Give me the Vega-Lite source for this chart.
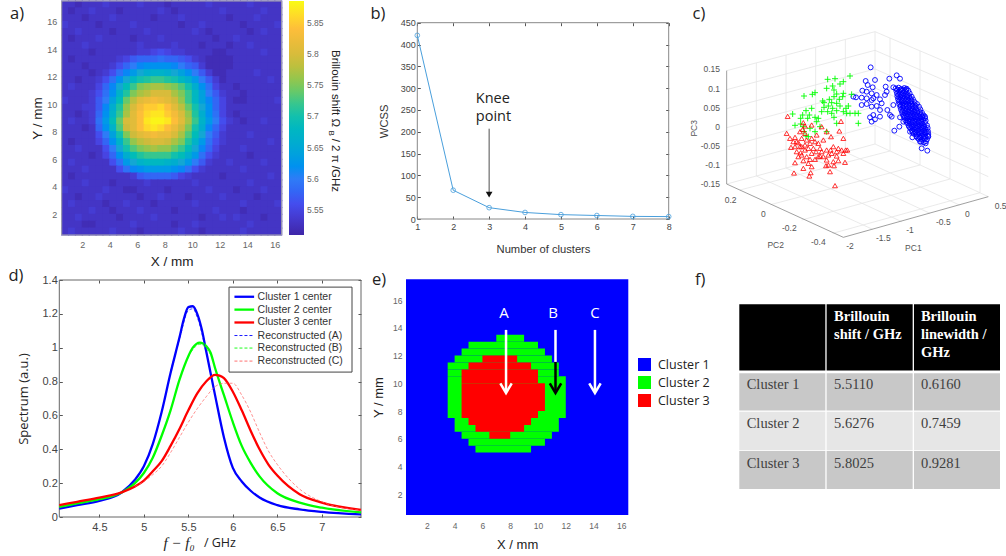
{"$schema":"https://vega.github.io/schema/vega-lite/v6.json","width":1006,"height":556,"autosize":{"type":"none"},"padding":0,"background":"white",
"config":{"view":{"stroke":null},"axis":{"grid":false,"labelFont":"Liberation Sans","titleFont":"Liberation Sans","titleFontWeight":"normal","labelOverlap":false,"labelFlush":false,"domain":false},"legend":{"labelFont":"Liberation Sans"}},
"resolve":{"scale":{"x":"independent","y":"independent","color":"independent"},"axis":{"x":"independent","y":"independent"},"legend":{"color":"independent"}},
"layer":[
{"encoding":{"x":{"field":"x","type":"quantitative","scale":{"domain":[0.5,16.5],"range":[61.7,281.7]},"axis":{"orient":"bottom","offset":-321,"values":[2,4,6,8,10,12,14,16],"title":"X / mm","ticks":false,"labelPadding":5,"labelFontSize":9,"labelColor":"#666","titleFontSize":13.5,"titleColor":"#222","titlePadding":5}},
"y":{"field":"y","type":"quantitative","scale":{"domain":[0.5,17.5],"range":[235,1]},"axis":{"orient":"left","offset":-61.7,"values":[2,4,6,8,10,12,14,16],"title":"Y / mm","ticks":false,"labelPadding":5,"labelFontSize":9,"labelColor":"#666","titleFontSize":13.5,"titleColor":"#222","titlePadding":2}}},
"layer":[
{"data":{"values":[
{"x":0.75,"y":17.25,"v":5.53},{"x":1.25,"y":17.25,"v":5.53},{"x":1.75,"y":17.25,"v":5.52},{"x":2.25,"y":17.25,"v":5.53},{"x":2.75,"y":17.25,"v":5.53},{"x":3.25,"y":17.25,"v":5.53},{"x":3.75,"y":17.25,"v":5.54},{"x":4.25,"y":17.25,"v":5.53},{"x":4.75,"y":17.25,"v":5.53},{"x":5.25,"y":17.25,"v":5.53},{"x":5.75,"y":17.25,"v":5.53},{"x":6.25,"y":17.25,"v":5.54},{"x":6.75,"y":17.25,"v":5.53},{"x":7.25,"y":17.25,"v":5.53},{"x":7.75,"y":17.25,"v":5.53},{"x":8.25,"y":17.25,"v":5.52},{"x":8.75,"y":17.25,"v":5.53},{"x":9.25,"y":17.25,"v":5.53},{"x":9.75,"y":17.25,"v":5.53},{"x":10.25,"y":17.25,"v":5.53},{"x":10.75,"y":17.25,"v":5.53},{"x":11.25,"y":17.25,"v":5.54},{"x":11.75,"y":17.25,"v":5.53},{"x":12.25,"y":17.25,"v":5.53},{"x":12.75,"y":17.25,"v":5.53},{"x":13.25,"y":17.25,"v":5.53},{"x":13.75,"y":17.25,"v":5.53},{"x":14.25,"y":17.25,"v":5.54},{"x":14.75,"y":17.25,"v":5.53},{"x":15.25,"y":17.25,"v":5.53},{"x":15.75,"y":17.25,"v":5.53},{"x":16.25,"y":17.25,"v":5.53},
{"x":0.75,"y":16.75,"v":5.53},{"x":1.25,"y":16.75,"v":5.52},{"x":1.75,"y":16.75,"v":5.53},{"x":2.25,"y":16.75,"v":5.53},{"x":2.75,"y":16.75,"v":5.54},{"x":3.25,"y":16.75,"v":5.53},{"x":3.75,"y":16.75,"v":5.53},{"x":4.25,"y":16.75,"v":5.53},{"x":4.75,"y":16.75,"v":5.52},{"x":5.25,"y":16.75,"v":5.53},{"x":5.75,"y":16.75,"v":5.53},{"x":6.25,"y":16.75,"v":5.53},{"x":6.75,"y":16.75,"v":5.53},{"x":7.25,"y":16.75,"v":5.53},{"x":7.75,"y":16.75,"v":5.54},{"x":8.25,"y":16.75,"v":5.53},{"x":8.75,"y":16.75,"v":5.52},{"x":9.25,"y":16.75,"v":5.53},{"x":9.75,"y":16.75,"v":5.53},{"x":10.25,"y":16.75,"v":5.53},{"x":10.75,"y":16.75,"v":5.53},{"x":11.25,"y":16.75,"v":5.53},{"x":11.75,"y":16.75,"v":5.53},{"x":12.25,"y":16.75,"v":5.54},{"x":12.75,"y":16.75,"v":5.53},{"x":13.25,"y":16.75,"v":5.53},{"x":13.75,"y":16.75,"v":5.53},{"x":14.25,"y":16.75,"v":5.53},{"x":14.75,"y":16.75,"v":5.53},{"x":15.25,"y":16.75,"v":5.54},{"x":15.75,"y":16.75,"v":5.53},{"x":16.25,"y":16.75,"v":5.53},
{"x":0.75,"y":16.25,"v":5.53},{"x":1.25,"y":16.25,"v":5.53},{"x":1.75,"y":16.25,"v":5.53},{"x":2.25,"y":16.25,"v":5.52},{"x":2.75,"y":16.25,"v":5.53},{"x":3.25,"y":16.25,"v":5.53},{"x":3.75,"y":16.25,"v":5.53},{"x":4.25,"y":16.25,"v":5.54},{"x":4.75,"y":16.25,"v":5.53},{"x":5.25,"y":16.25,"v":5.53},{"x":5.75,"y":16.25,"v":5.53},{"x":6.25,"y":16.25,"v":5.53},{"x":6.75,"y":16.25,"v":5.53},{"x":7.25,"y":16.25,"v":5.52},{"x":7.75,"y":16.25,"v":5.53},{"x":8.25,"y":16.25,"v":5.53},{"x":8.75,"y":16.25,"v":5.53},{"x":9.25,"y":16.25,"v":5.54},{"x":9.75,"y":16.25,"v":5.53},{"x":10.25,"y":16.25,"v":5.53},{"x":10.75,"y":16.25,"v":5.53},{"x":11.25,"y":16.25,"v":5.53},{"x":11.75,"y":16.25,"v":5.53},{"x":12.25,"y":16.25,"v":5.53},{"x":12.75,"y":16.25,"v":5.52},{"x":13.25,"y":16.25,"v":5.53},{"x":13.75,"y":16.25,"v":5.53},{"x":14.25,"y":16.25,"v":5.53},{"x":14.75,"y":16.25,"v":5.54},{"x":15.25,"y":16.25,"v":5.53},{"x":15.75,"y":16.25,"v":5.53},{"x":16.25,"y":16.25,"v":5.53},
{"x":0.75,"y":15.75,"v":5.54},{"x":1.25,"y":15.75,"v":5.53},{"x":1.75,"y":15.75,"v":5.53},{"x":2.25,"y":15.75,"v":5.53},{"x":2.75,"y":15.75,"v":5.53},{"x":3.25,"y":15.75,"v":5.52},{"x":3.75,"y":15.75,"v":5.53},{"x":4.25,"y":15.75,"v":5.53},{"x":4.75,"y":15.75,"v":5.53},{"x":5.25,"y":15.75,"v":5.53},{"x":5.75,"y":15.75,"v":5.54},{"x":6.25,"y":15.75,"v":5.53},{"x":6.75,"y":15.75,"v":5.53},{"x":7.25,"y":15.75,"v":5.53},{"x":7.75,"y":15.75,"v":5.53},{"x":8.25,"y":15.75,"v":5.53},{"x":8.75,"y":15.75,"v":5.53},{"x":9.25,"y":15.75,"v":5.52},{"x":9.75,"y":15.75,"v":5.53},{"x":10.25,"y":15.75,"v":5.53},{"x":10.75,"y":15.75,"v":5.54},{"x":11.25,"y":15.75,"v":5.53},{"x":11.75,"y":15.75,"v":5.53},{"x":12.25,"y":15.75,"v":5.53},{"x":12.75,"y":15.75,"v":5.53},{"x":13.25,"y":15.75,"v":5.53},{"x":13.75,"y":15.75,"v":5.52},{"x":14.25,"y":15.75,"v":5.53},{"x":14.75,"y":15.75,"v":5.53},{"x":15.25,"y":15.75,"v":5.53},{"x":15.75,"y":15.75,"v":5.53},{"x":16.25,"y":15.75,"v":5.54},
{"x":0.75,"y":15.25,"v":5.53},{"x":1.25,"y":15.25,"v":5.53},{"x":1.75,"y":15.25,"v":5.54},{"x":2.25,"y":15.25,"v":5.53},{"x":2.75,"y":15.25,"v":5.53},{"x":3.25,"y":15.25,"v":5.53},{"x":3.75,"y":15.25,"v":5.53},{"x":4.25,"y":15.25,"v":5.52},{"x":4.75,"y":15.25,"v":5.53},{"x":5.25,"y":15.25,"v":5.53},{"x":5.75,"y":15.25,"v":5.53},{"x":6.25,"y":15.25,"v":5.53},{"x":6.75,"y":15.25,"v":5.54},{"x":7.25,"y":15.25,"v":5.53},{"x":7.75,"y":15.25,"v":5.53},{"x":8.25,"y":15.25,"v":5.53},{"x":8.75,"y":15.25,"v":5.53},{"x":9.25,"y":15.25,"v":5.53},{"x":9.75,"y":15.25,"v":5.53},{"x":10.25,"y":15.25,"v":5.54},{"x":10.75,"y":15.25,"v":5.53},{"x":11.25,"y":15.25,"v":5.52},{"x":11.75,"y":15.25,"v":5.53},{"x":12.25,"y":15.25,"v":5.53},{"x":12.75,"y":15.25,"v":5.53},{"x":13.25,"y":15.25,"v":5.53},{"x":13.75,"y":15.25,"v":5.53},{"x":14.25,"y":15.25,"v":5.52},{"x":14.75,"y":15.25,"v":5.53},{"x":15.25,"y":15.25,"v":5.54},{"x":15.75,"y":15.25,"v":5.53},{"x":16.25,"y":15.25,"v":5.53},
{"x":0.75,"y":14.75,"v":5.53},{"x":1.25,"y":14.75,"v":5.52},{"x":1.75,"y":14.75,"v":5.53},{"x":2.25,"y":14.75,"v":5.53},{"x":2.75,"y":14.75,"v":5.53},{"x":3.25,"y":14.75,"v":5.54},{"x":3.75,"y":14.75,"v":5.53},{"x":4.25,"y":14.75,"v":5.53},{"x":4.75,"y":14.75,"v":5.53},{"x":5.25,"y":14.75,"v":5.53},{"x":5.75,"y":14.75,"v":5.52},{"x":6.25,"y":14.75,"v":5.53},{"x":6.75,"y":14.75,"v":5.53},{"x":7.25,"y":14.75,"v":5.53},{"x":7.75,"y":14.75,"v":5.54},{"x":8.25,"y":14.75,"v":5.53},{"x":8.75,"y":14.75,"v":5.53},{"x":9.25,"y":14.75,"v":5.53},{"x":9.75,"y":14.75,"v":5.53},{"x":10.25,"y":14.75,"v":5.53},{"x":10.75,"y":14.75,"v":5.53},{"x":11.25,"y":14.75,"v":5.53},{"x":11.75,"y":14.75,"v":5.52},{"x":12.25,"y":14.75,"v":5.53},{"x":12.75,"y":14.75,"v":5.53},{"x":13.25,"y":14.75,"v":5.54},{"x":13.75,"y":14.75,"v":5.53},{"x":14.25,"y":14.75,"v":5.53},{"x":14.75,"y":14.75,"v":5.53},{"x":15.25,"y":14.75,"v":5.53},{"x":15.75,"y":14.75,"v":5.53},{"x":16.25,"y":14.75,"v":5.53},
{"x":0.75,"y":14.25,"v":5.53},{"x":1.25,"y":14.25,"v":5.53},{"x":1.75,"y":14.25,"v":5.53},{"x":2.25,"y":14.25,"v":5.54},{"x":2.75,"y":14.25,"v":5.53},{"x":3.25,"y":14.25,"v":5.53},{"x":3.75,"y":14.25,"v":5.53},{"x":4.25,"y":14.25,"v":5.53},{"x":4.75,"y":14.25,"v":5.53},{"x":5.25,"y":14.25,"v":5.53},{"x":5.75,"y":14.25,"v":5.53},{"x":6.25,"y":14.25,"v":5.54},{"x":6.75,"y":14.25,"v":5.53},{"x":7.25,"y":14.25,"v":5.53},{"x":7.75,"y":14.25,"v":5.53},{"x":8.25,"y":14.25,"v":5.53},{"x":8.75,"y":14.25,"v":5.54},{"x":9.25,"y":14.25,"v":5.53},{"x":9.75,"y":14.25,"v":5.53},{"x":10.25,"y":14.25,"v":5.53},{"x":10.75,"y":14.25,"v":5.52},{"x":11.25,"y":14.25,"v":5.53},{"x":11.75,"y":14.25,"v":5.53},{"x":12.25,"y":14.25,"v":5.53},{"x":12.75,"y":14.25,"v":5.52},{"x":13.25,"y":14.25,"v":5.53},{"x":13.75,"y":14.25,"v":5.53},{"x":14.25,"y":14.25,"v":5.54},{"x":14.75,"y":14.25,"v":5.53},{"x":15.25,"y":14.25,"v":5.53},{"x":15.75,"y":14.25,"v":5.53},{"x":16.25,"y":14.25,"v":5.53},
{"x":0.75,"y":13.75,"v":5.53},{"x":1.25,"y":13.75,"v":5.53},{"x":1.75,"y":13.75,"v":5.53},{"x":2.25,"y":13.75,"v":5.53},{"x":2.75,"y":13.75,"v":5.52},{"x":3.25,"y":13.75,"v":5.53},{"x":3.75,"y":13.75,"v":5.53},{"x":4.25,"y":13.75,"v":5.53},{"x":4.75,"y":13.75,"v":5.53},{"x":5.25,"y":13.75,"v":5.53},{"x":5.75,"y":13.75,"v":5.53},{"x":6.25,"y":13.75,"v":5.54},{"x":6.75,"y":13.75,"v":5.54},{"x":7.25,"y":13.75,"v":5.55},{"x":7.75,"y":13.75,"v":5.56},{"x":8.25,"y":13.75,"v":5.55},{"x":8.75,"y":13.75,"v":5.54},{"x":9.25,"y":13.75,"v":5.54},{"x":9.75,"y":13.75,"v":5.53},{"x":10.25,"y":13.75,"v":5.53},{"x":10.75,"y":13.75,"v":5.53},{"x":11.25,"y":13.75,"v":5.53},{"x":11.75,"y":13.75,"v":5.52},{"x":12.25,"y":13.75,"v":5.52},{"x":12.75,"y":13.75,"v":5.53},{"x":13.25,"y":13.75,"v":5.53},{"x":13.75,"y":13.75,"v":5.53},{"x":14.25,"y":13.75,"v":5.53},{"x":14.75,"y":13.75,"v":5.53},{"x":15.25,"y":13.75,"v":5.54},{"x":15.75,"y":13.75,"v":5.53},{"x":16.25,"y":13.75,"v":5.53},
{"x":0.75,"y":13.25,"v":5.53},{"x":1.25,"y":13.25,"v":5.52},{"x":1.75,"y":13.25,"v":5.53},{"x":2.25,"y":13.25,"v":5.53},{"x":2.75,"y":13.25,"v":5.53},{"x":3.25,"y":13.25,"v":5.53},{"x":3.75,"y":13.25,"v":5.53},{"x":4.25,"y":13.25,"v":5.53},{"x":4.75,"y":13.25,"v":5.54},{"x":5.25,"y":13.25,"v":5.55},{"x":5.75,"y":13.25,"v":5.57},{"x":6.25,"y":13.25,"v":5.58},{"x":6.75,"y":13.25,"v":5.58},{"x":7.25,"y":13.25,"v":5.58},{"x":7.75,"y":13.25,"v":5.59},{"x":8.25,"y":13.25,"v":5.58},{"x":8.75,"y":13.25,"v":5.58},{"x":9.25,"y":13.25,"v":5.57},{"x":9.75,"y":13.25,"v":5.56},{"x":10.25,"y":13.25,"v":5.54},{"x":10.75,"y":13.25,"v":5.53},{"x":11.25,"y":13.25,"v":5.52},{"x":11.75,"y":13.25,"v":5.52},{"x":12.25,"y":13.25,"v":5.52},{"x":12.75,"y":13.25,"v":5.52},{"x":13.25,"y":13.25,"v":5.53},{"x":13.75,"y":13.25,"v":5.53},{"x":14.25,"y":13.25,"v":5.53},{"x":14.75,"y":13.25,"v":5.53},{"x":15.25,"y":13.25,"v":5.53},{"x":15.75,"y":13.25,"v":5.53},{"x":16.25,"y":13.25,"v":5.53},
{"x":0.75,"y":12.75,"v":5.53},{"x":1.25,"y":12.75,"v":5.53},{"x":1.75,"y":12.75,"v":5.53},{"x":2.25,"y":12.75,"v":5.52},{"x":2.75,"y":12.75,"v":5.53},{"x":3.25,"y":12.75,"v":5.53},{"x":3.75,"y":12.75,"v":5.53},{"x":4.25,"y":12.75,"v":5.54},{"x":4.75,"y":12.75,"v":5.56},{"x":5.25,"y":12.75,"v":5.58},{"x":5.75,"y":12.75,"v":5.6},{"x":6.25,"y":12.75,"v":5.61},{"x":6.75,"y":12.75,"v":5.62},{"x":7.25,"y":12.75,"v":5.62},{"x":7.75,"y":12.75,"v":5.62},{"x":8.25,"y":12.75,"v":5.62},{"x":8.75,"y":12.75,"v":5.61},{"x":9.25,"y":12.75,"v":5.6},{"x":9.75,"y":12.75,"v":5.58},{"x":10.25,"y":12.75,"v":5.57},{"x":10.75,"y":12.75,"v":5.54},{"x":11.25,"y":12.75,"v":5.52},{"x":11.75,"y":12.75,"v":5.52},{"x":12.25,"y":12.75,"v":5.52},{"x":12.75,"y":12.75,"v":5.52},{"x":13.25,"y":12.75,"v":5.53},{"x":13.75,"y":12.75,"v":5.53},{"x":14.25,"y":12.75,"v":5.53},{"x":14.75,"y":12.75,"v":5.53},{"x":15.25,"y":12.75,"v":5.53},{"x":15.75,"y":12.75,"v":5.53},{"x":16.25,"y":12.75,"v":5.53},
{"x":0.75,"y":12.25,"v":5.53},{"x":1.25,"y":12.25,"v":5.53},{"x":1.75,"y":12.25,"v":5.53},{"x":2.25,"y":12.25,"v":5.53},{"x":2.75,"y":12.25,"v":5.52},{"x":3.25,"y":12.25,"v":5.53},{"x":3.75,"y":12.25,"v":5.54},{"x":4.25,"y":12.25,"v":5.56},{"x":4.75,"y":12.25,"v":5.59},{"x":5.25,"y":12.25,"v":5.61},{"x":5.75,"y":12.25,"v":5.63},{"x":6.25,"y":12.25,"v":5.65},{"x":6.75,"y":12.25,"v":5.66},{"x":7.25,"y":12.25,"v":5.67},{"x":7.75,"y":12.25,"v":5.67},{"x":8.25,"y":12.25,"v":5.66},{"x":8.75,"y":12.25,"v":5.65},{"x":9.25,"y":12.25,"v":5.64},{"x":9.75,"y":12.25,"v":5.62},{"x":10.25,"y":12.25,"v":5.6},{"x":10.75,"y":12.25,"v":5.57},{"x":11.25,"y":12.25,"v":5.54},{"x":11.75,"y":12.25,"v":5.52},{"x":12.25,"y":12.25,"v":5.52},{"x":12.75,"y":12.25,"v":5.53},{"x":13.25,"y":12.25,"v":5.53},{"x":13.75,"y":12.25,"v":5.53},{"x":14.25,"y":12.25,"v":5.53},{"x":14.75,"y":12.25,"v":5.54},{"x":15.25,"y":12.25,"v":5.53},{"x":15.75,"y":12.25,"v":5.53},{"x":16.25,"y":12.25,"v":5.53},
{"x":0.75,"y":11.75,"v":5.53},{"x":1.25,"y":11.75,"v":5.53},{"x":1.75,"y":11.75,"v":5.52},{"x":2.25,"y":11.75,"v":5.53},{"x":2.75,"y":11.75,"v":5.53},{"x":3.25,"y":11.75,"v":5.54},{"x":3.75,"y":11.75,"v":5.56},{"x":4.25,"y":11.75,"v":5.59},{"x":4.75,"y":11.75,"v":5.62},{"x":5.25,"y":11.75,"v":5.65},{"x":5.75,"y":11.75,"v":5.68},{"x":6.25,"y":11.75,"v":5.7},{"x":6.75,"y":11.75,"v":5.71},{"x":7.25,"y":11.75,"v":5.72},{"x":7.75,"y":11.75,"v":5.72},{"x":8.25,"y":11.75,"v":5.71},{"x":8.75,"y":11.75,"v":5.7},{"x":9.25,"y":11.75,"v":5.68},{"x":9.75,"y":11.75,"v":5.66},{"x":10.25,"y":11.75,"v":5.63},{"x":10.75,"y":11.75,"v":5.6},{"x":11.25,"y":11.75,"v":5.57},{"x":11.75,"y":11.75,"v":5.54},{"x":12.25,"y":11.75,"v":5.52},{"x":12.75,"y":11.75,"v":5.53},{"x":13.25,"y":11.75,"v":5.53},{"x":13.75,"y":11.75,"v":5.53},{"x":14.25,"y":11.75,"v":5.53},{"x":14.75,"y":11.75,"v":5.53},{"x":15.25,"y":11.75,"v":5.53},{"x":15.75,"y":11.75,"v":5.54},{"x":16.25,"y":11.75,"v":5.53},
{"x":0.75,"y":11.25,"v":5.53},{"x":1.25,"y":11.25,"v":5.54},{"x":1.75,"y":11.25,"v":5.53},{"x":2.25,"y":11.25,"v":5.53},{"x":2.75,"y":11.25,"v":5.53},{"x":3.25,"y":11.25,"v":5.55},{"x":3.75,"y":11.25,"v":5.58},{"x":4.25,"y":11.25,"v":5.61},{"x":4.75,"y":11.25,"v":5.65},{"x":5.25,"y":11.25,"v":5.69},{"x":5.75,"y":11.25,"v":5.72},{"x":6.25,"y":11.25,"v":5.75},{"x":6.75,"y":11.25,"v":5.76},{"x":7.25,"y":11.25,"v":5.77},{"x":7.75,"y":11.25,"v":5.77},{"x":8.25,"y":11.25,"v":5.76},{"x":8.75,"y":11.25,"v":5.75},{"x":9.25,"y":11.25,"v":5.73},{"x":9.75,"y":11.25,"v":5.7},{"x":10.25,"y":11.25,"v":5.66},{"x":10.75,"y":11.25,"v":5.62},{"x":11.25,"y":11.25,"v":5.59},{"x":11.75,"y":11.25,"v":5.55},{"x":12.25,"y":11.25,"v":5.53},{"x":12.75,"y":11.25,"v":5.53},{"x":13.25,"y":11.25,"v":5.52},{"x":13.75,"y":11.25,"v":5.53},{"x":14.25,"y":11.25,"v":5.53},{"x":14.75,"y":11.25,"v":5.53},{"x":15.25,"y":11.25,"v":5.53},{"x":15.75,"y":11.25,"v":5.53},{"x":16.25,"y":11.25,"v":5.53},
{"x":0.75,"y":10.75,"v":5.53},{"x":1.25,"y":10.75,"v":5.53},{"x":1.75,"y":10.75,"v":5.53},{"x":2.25,"y":10.75,"v":5.53},{"x":2.75,"y":10.75,"v":5.54},{"x":3.25,"y":10.75,"v":5.56},{"x":3.75,"y":10.75,"v":5.59},{"x":4.25,"y":10.75,"v":5.62},{"x":4.75,"y":10.75,"v":5.67},{"x":5.25,"y":10.75,"v":5.71},{"x":5.75,"y":10.75,"v":5.75},{"x":6.25,"y":10.75,"v":5.77},{"x":6.75,"y":10.75,"v":5.78},{"x":7.25,"y":10.75,"v":5.8},{"x":7.75,"y":10.75,"v":5.8},{"x":8.25,"y":10.75,"v":5.8},{"x":8.75,"y":10.75,"v":5.77},{"x":9.25,"y":10.75,"v":5.75},{"x":9.75,"y":10.75,"v":5.72},{"x":10.25,"y":10.75,"v":5.68},{"x":10.75,"y":10.75,"v":5.64},{"x":11.25,"y":10.75,"v":5.6},{"x":11.75,"y":10.75,"v":5.57},{"x":12.25,"y":10.75,"v":5.54},{"x":12.75,"y":10.75,"v":5.53},{"x":13.25,"y":10.75,"v":5.53},{"x":13.75,"y":10.75,"v":5.52},{"x":14.25,"y":10.75,"v":5.53},{"x":14.75,"y":10.75,"v":5.53},{"x":15.25,"y":10.75,"v":5.53},{"x":15.75,"y":10.75,"v":5.53},{"x":16.25,"y":10.75,"v":5.53},
{"x":0.75,"y":10.25,"v":5.54},{"x":1.25,"y":10.25,"v":5.53},{"x":1.75,"y":10.25,"v":5.53},{"x":2.25,"y":10.25,"v":5.53},{"x":2.75,"y":10.25,"v":5.54},{"x":3.25,"y":10.25,"v":5.57},{"x":3.75,"y":10.25,"v":5.6},{"x":4.25,"y":10.25,"v":5.64},{"x":4.75,"y":10.25,"v":5.69},{"x":5.25,"y":10.25,"v":5.74},{"x":5.75,"y":10.25,"v":5.78},{"x":6.25,"y":10.25,"v":5.81},{"x":6.75,"y":10.25,"v":5.82},{"x":7.25,"y":10.25,"v":5.83},{"x":7.75,"y":10.25,"v":5.82},{"x":8.25,"y":10.25,"v":5.81},{"x":8.75,"y":10.25,"v":5.79},{"x":9.25,"y":10.25,"v":5.76},{"x":9.75,"y":10.25,"v":5.72},{"x":10.25,"y":10.25,"v":5.68},{"x":10.75,"y":10.25,"v":5.64},{"x":11.25,"y":10.25,"v":5.61},{"x":11.75,"y":10.25,"v":5.58},{"x":12.25,"y":10.25,"v":5.55},{"x":12.75,"y":10.25,"v":5.53},{"x":13.25,"y":10.25,"v":5.52},{"x":13.75,"y":10.25,"v":5.52},{"x":14.25,"y":10.25,"v":5.53},{"x":14.75,"y":10.25,"v":5.53},{"x":15.25,"y":10.25,"v":5.53},{"x":15.75,"y":10.25,"v":5.53},{"x":16.25,"y":10.25,"v":5.54},
{"x":0.75,"y":9.75,"v":5.53},{"x":1.25,"y":9.75,"v":5.53},{"x":1.75,"y":9.75,"v":5.53},{"x":2.25,"y":9.75,"v":5.54},{"x":2.75,"y":9.75,"v":5.54},{"x":3.25,"y":9.75,"v":5.57},{"x":3.75,"y":9.75,"v":5.61},{"x":4.25,"y":9.75,"v":5.66},{"x":4.75,"y":9.75,"v":5.71},{"x":5.25,"y":9.75,"v":5.76},{"x":5.75,"y":9.75,"v":5.8},{"x":6.25,"y":9.75,"v":5.83},{"x":6.75,"y":9.75,"v":5.85},{"x":7.25,"y":9.75,"v":5.85},{"x":7.75,"y":9.75,"v":5.86},{"x":8.25,"y":9.75,"v":5.84},{"x":8.75,"y":9.75,"v":5.81},{"x":9.25,"y":9.75,"v":5.78},{"x":9.75,"y":9.75,"v":5.74},{"x":10.25,"y":9.75,"v":5.7},{"x":10.75,"y":9.75,"v":5.65},{"x":11.25,"y":9.75,"v":5.62},{"x":11.75,"y":9.75,"v":5.58},{"x":12.25,"y":9.75,"v":5.55},{"x":12.75,"y":9.75,"v":5.53},{"x":13.25,"y":9.75,"v":5.53},{"x":13.75,"y":9.75,"v":5.53},{"x":14.25,"y":9.75,"v":5.53},{"x":14.75,"y":9.75,"v":5.53},{"x":15.25,"y":9.75,"v":5.53},{"x":15.75,"y":9.75,"v":5.53},{"x":16.25,"y":9.75,"v":5.53},
{"x":0.75,"y":9.25,"v":5.53},{"x":1.25,"y":9.25,"v":5.53},{"x":1.75,"y":9.25,"v":5.52},{"x":2.25,"y":9.25,"v":5.53},{"x":2.75,"y":9.25,"v":5.54},{"x":3.25,"y":9.25,"v":5.58},{"x":3.75,"y":9.25,"v":5.62},{"x":4.25,"y":9.25,"v":5.67},{"x":4.75,"y":9.25,"v":5.72},{"x":5.25,"y":9.25,"v":5.77},{"x":5.75,"y":9.25,"v":5.81},{"x":6.25,"y":9.25,"v":5.84},{"x":6.75,"y":9.25,"v":5.86},{"x":7.25,"y":9.25,"v":5.87},{"x":7.75,"y":9.25,"v":5.87},{"x":8.25,"y":9.25,"v":5.85},{"x":8.75,"y":9.25,"v":5.83},{"x":9.25,"y":9.25,"v":5.8},{"x":9.75,"y":9.25,"v":5.76},{"x":10.25,"y":9.25,"v":5.71},{"x":10.75,"y":9.25,"v":5.66},{"x":11.25,"y":9.25,"v":5.62},{"x":11.75,"y":9.25,"v":5.59},{"x":12.25,"y":9.25,"v":5.55},{"x":12.75,"y":9.25,"v":5.53},{"x":13.25,"y":9.25,"v":5.52},{"x":13.75,"y":9.25,"v":5.53},{"x":14.25,"y":9.25,"v":5.53},{"x":14.75,"y":9.25,"v":5.53},{"x":15.25,"y":9.25,"v":5.53},{"x":15.75,"y":9.25,"v":5.53},{"x":16.25,"y":9.25,"v":5.53},
{"x":0.75,"y":8.75,"v":5.53},{"x":1.25,"y":8.75,"v":5.54},{"x":1.75,"y":8.75,"v":5.53},{"x":2.25,"y":8.75,"v":5.53},{"x":2.75,"y":8.75,"v":5.54},{"x":3.25,"y":8.75,"v":5.59},{"x":3.75,"y":8.75,"v":5.63},{"x":4.25,"y":8.75,"v":5.69},{"x":4.75,"y":8.75,"v":5.74},{"x":5.25,"y":8.75,"v":5.8},{"x":5.75,"y":8.75,"v":5.81},{"x":6.25,"y":8.75,"v":5.84},{"x":6.75,"y":8.75,"v":5.87},{"x":7.25,"y":8.75,"v":5.88},{"x":7.75,"y":8.75,"v":5.88},{"x":8.25,"y":8.75,"v":5.87},{"x":8.75,"y":8.75,"v":5.84},{"x":9.25,"y":8.75,"v":5.81},{"x":9.75,"y":8.75,"v":5.77},{"x":10.25,"y":8.75,"v":5.72},{"x":10.75,"y":8.75,"v":5.67},{"x":11.25,"y":8.75,"v":5.63},{"x":11.75,"y":8.75,"v":5.6},{"x":12.25,"y":8.75,"v":5.56},{"x":12.75,"y":8.75,"v":5.54},{"x":13.25,"y":8.75,"v":5.53},{"x":13.75,"y":8.75,"v":5.52},{"x":14.25,"y":8.75,"v":5.53},{"x":14.75,"y":8.75,"v":5.53},{"x":15.25,"y":8.75,"v":5.54},{"x":15.75,"y":8.75,"v":5.53},{"x":16.25,"y":8.75,"v":5.53},
{"x":0.75,"y":8.25,"v":5.53},{"x":1.25,"y":8.25,"v":5.53},{"x":1.75,"y":8.25,"v":5.53},{"x":2.25,"y":8.25,"v":5.52},{"x":2.75,"y":8.25,"v":5.53},{"x":3.25,"y":8.25,"v":5.58},{"x":3.75,"y":8.25,"v":5.62},{"x":4.25,"y":8.25,"v":5.67},{"x":4.75,"y":8.25,"v":5.73},{"x":5.25,"y":8.25,"v":5.79},{"x":5.75,"y":8.25,"v":5.81},{"x":6.25,"y":8.25,"v":5.84},{"x":6.75,"y":8.25,"v":5.86},{"x":7.25,"y":8.25,"v":5.87},{"x":7.75,"y":8.25,"v":5.86},{"x":8.25,"y":8.25,"v":5.84},{"x":8.75,"y":8.25,"v":5.82},{"x":9.25,"y":8.25,"v":5.79},{"x":9.75,"y":8.25,"v":5.75},{"x":10.25,"y":8.25,"v":5.7},{"x":10.75,"y":8.25,"v":5.66},{"x":11.25,"y":8.25,"v":5.61},{"x":11.75,"y":8.25,"v":5.58},{"x":12.25,"y":8.25,"v":5.55},{"x":12.75,"y":8.25,"v":5.53},{"x":13.25,"y":8.25,"v":5.53},{"x":13.75,"y":8.25,"v":5.53},{"x":14.25,"y":8.25,"v":5.53},{"x":14.75,"y":8.25,"v":5.53},{"x":15.25,"y":8.25,"v":5.53},{"x":15.75,"y":8.25,"v":5.53},{"x":16.25,"y":8.25,"v":5.53},
{"x":0.75,"y":7.75,"v":5.53},{"x":1.25,"y":7.75,"v":5.53},{"x":1.75,"y":7.75,"v":5.53},{"x":2.25,"y":7.75,"v":5.53},{"x":2.75,"y":7.75,"v":5.53},{"x":3.25,"y":7.75,"v":5.56},{"x":3.75,"y":7.75,"v":5.6},{"x":4.25,"y":7.75,"v":5.64},{"x":4.75,"y":7.75,"v":5.7},{"x":5.25,"y":7.75,"v":5.75},{"x":5.75,"y":7.75,"v":5.79},{"x":6.25,"y":7.75,"v":5.81},{"x":6.75,"y":7.75,"v":5.82},{"x":7.25,"y":7.75,"v":5.83},{"x":7.75,"y":7.75,"v":5.82},{"x":8.25,"y":7.75,"v":5.82},{"x":8.75,"y":7.75,"v":5.8},{"x":9.25,"y":7.75,"v":5.77},{"x":9.75,"y":7.75,"v":5.73},{"x":10.25,"y":7.75,"v":5.69},{"x":10.75,"y":7.75,"v":5.65},{"x":11.25,"y":7.75,"v":5.6},{"x":11.75,"y":7.75,"v":5.57},{"x":12.25,"y":7.75,"v":5.54},{"x":12.75,"y":7.75,"v":5.53},{"x":13.25,"y":7.75,"v":5.53},{"x":13.75,"y":7.75,"v":5.53},{"x":14.25,"y":7.75,"v":5.54},{"x":14.75,"y":7.75,"v":5.53},{"x":15.25,"y":7.75,"v":5.53},{"x":15.75,"y":7.75,"v":5.53},{"x":16.25,"y":7.75,"v":5.53},
{"x":0.75,"y":7.25,"v":5.53},{"x":1.25,"y":7.25,"v":5.52},{"x":1.75,"y":7.25,"v":5.53},{"x":2.25,"y":7.25,"v":5.53},{"x":2.75,"y":7.25,"v":5.53},{"x":3.25,"y":7.25,"v":5.55},{"x":3.75,"y":7.25,"v":5.58},{"x":4.25,"y":7.25,"v":5.62},{"x":4.75,"y":7.25,"v":5.67},{"x":5.25,"y":7.25,"v":5.72},{"x":5.75,"y":7.25,"v":5.76},{"x":6.25,"y":7.25,"v":5.78},{"x":6.75,"y":7.25,"v":5.79},{"x":7.25,"y":7.25,"v":5.8},{"x":7.75,"y":7.25,"v":5.8},{"x":8.25,"y":7.25,"v":5.79},{"x":8.75,"y":7.25,"v":5.77},{"x":9.25,"y":7.25,"v":5.75},{"x":9.75,"y":7.25,"v":5.71},{"x":10.25,"y":7.25,"v":5.67},{"x":10.75,"y":7.25,"v":5.63},{"x":11.25,"y":7.25,"v":5.59},{"x":11.75,"y":7.25,"v":5.56},{"x":12.25,"y":7.25,"v":5.54},{"x":12.75,"y":7.25,"v":5.53},{"x":13.25,"y":7.25,"v":5.53},{"x":13.75,"y":7.25,"v":5.53},{"x":14.25,"y":7.25,"v":5.53},{"x":14.75,"y":7.25,"v":5.53},{"x":15.25,"y":7.25,"v":5.53},{"x":15.75,"y":7.25,"v":5.54},{"x":16.25,"y":7.25,"v":5.53},
{"x":0.75,"y":6.75,"v":5.53},{"x":1.25,"y":6.75,"v":5.53},{"x":1.75,"y":6.75,"v":5.54},{"x":2.25,"y":6.75,"v":5.53},{"x":2.75,"y":6.75,"v":5.53},{"x":3.25,"y":6.75,"v":5.53},{"x":3.75,"y":6.75,"v":5.56},{"x":4.25,"y":6.75,"v":5.6},{"x":4.75,"y":6.75,"v":5.65},{"x":5.25,"y":6.75,"v":5.7},{"x":5.75,"y":6.75,"v":5.73},{"x":6.25,"y":6.75,"v":5.75},{"x":6.75,"y":6.75,"v":5.76},{"x":7.25,"y":6.75,"v":5.77},{"x":7.75,"y":6.75,"v":5.76},{"x":8.25,"y":6.75,"v":5.76},{"x":8.75,"y":6.75,"v":5.74},{"x":9.25,"y":6.75,"v":5.72},{"x":9.75,"y":6.75,"v":5.69},{"x":10.25,"y":6.75,"v":5.65},{"x":10.75,"y":6.75,"v":5.61},{"x":11.25,"y":6.75,"v":5.58},{"x":11.75,"y":6.75,"v":5.55},{"x":12.25,"y":6.75,"v":5.53},{"x":12.75,"y":6.75,"v":5.53},{"x":13.25,"y":6.75,"v":5.53},{"x":13.75,"y":6.75,"v":5.54},{"x":14.25,"y":6.75,"v":5.53},{"x":14.75,"y":6.75,"v":5.53},{"x":15.25,"y":6.75,"v":5.53},{"x":15.75,"y":6.75,"v":5.53},{"x":16.25,"y":6.75,"v":5.53},
{"x":0.75,"y":6.25,"v":5.53},{"x":1.25,"y":6.25,"v":5.53},{"x":1.75,"y":6.25,"v":5.53},{"x":2.25,"y":6.25,"v":5.53},{"x":2.75,"y":6.25,"v":5.52},{"x":3.25,"y":6.25,"v":5.53},{"x":3.75,"y":6.25,"v":5.55},{"x":4.25,"y":6.25,"v":5.58},{"x":4.75,"y":6.25,"v":5.62},{"x":5.25,"y":6.25,"v":5.66},{"x":5.75,"y":6.25,"v":5.69},{"x":6.25,"y":6.25,"v":5.71},{"x":6.75,"y":6.25,"v":5.72},{"x":7.25,"y":6.25,"v":5.72},{"x":7.75,"y":6.25,"v":5.72},{"x":8.25,"y":6.25,"v":5.72},{"x":8.75,"y":6.25,"v":5.7},{"x":9.25,"y":6.25,"v":5.69},{"x":9.75,"y":6.25,"v":5.66},{"x":10.25,"y":6.25,"v":5.63},{"x":10.75,"y":6.25,"v":5.59},{"x":11.25,"y":6.25,"v":5.56},{"x":11.75,"y":6.25,"v":5.54},{"x":12.25,"y":6.25,"v":5.53},{"x":12.75,"y":6.25,"v":5.53},{"x":13.25,"y":6.25,"v":5.53},{"x":13.75,"y":6.25,"v":5.53},{"x":14.25,"y":6.25,"v":5.52},{"x":14.75,"y":6.25,"v":5.53},{"x":15.25,"y":6.25,"v":5.53},{"x":15.75,"y":6.25,"v":5.53},{"x":16.25,"y":6.25,"v":5.53},
{"x":0.75,"y":5.75,"v":5.53},{"x":1.25,"y":5.75,"v":5.54},{"x":1.75,"y":5.75,"v":5.53},{"x":2.25,"y":5.75,"v":5.53},{"x":2.75,"y":5.75,"v":5.53},{"x":3.25,"y":5.75,"v":5.53},{"x":3.75,"y":5.75,"v":5.53},{"x":4.25,"y":5.75,"v":5.56},{"x":4.75,"y":5.75,"v":5.59},{"x":5.25,"y":5.75,"v":5.63},{"x":5.75,"y":5.75,"v":5.65},{"x":6.25,"y":5.75,"v":5.67},{"x":6.75,"y":5.75,"v":5.68},{"x":7.25,"y":5.75,"v":5.68},{"x":7.75,"y":5.75,"v":5.68},{"x":8.25,"y":5.75,"v":5.67},{"x":8.75,"y":5.75,"v":5.66},{"x":9.25,"y":5.75,"v":5.65},{"x":9.75,"y":5.75,"v":5.63},{"x":10.25,"y":5.75,"v":5.6},{"x":10.75,"y":5.75,"v":5.57},{"x":11.25,"y":5.75,"v":5.54},{"x":11.75,"y":5.75,"v":5.53},{"x":12.25,"y":5.75,"v":5.53},{"x":12.75,"y":5.75,"v":5.54},{"x":13.25,"y":5.75,"v":5.53},{"x":13.75,"y":5.75,"v":5.53},{"x":14.25,"y":5.75,"v":5.53},{"x":14.75,"y":5.75,"v":5.53},{"x":15.25,"y":5.75,"v":5.54},{"x":15.75,"y":5.75,"v":5.53},{"x":16.25,"y":5.75,"v":5.53},
{"x":0.75,"y":5.25,"v":5.53},{"x":1.25,"y":5.25,"v":5.53},{"x":1.75,"y":5.25,"v":5.53},{"x":2.25,"y":5.25,"v":5.54},{"x":2.75,"y":5.25,"v":5.53},{"x":3.25,"y":5.25,"v":5.53},{"x":3.75,"y":5.25,"v":5.53},{"x":4.25,"y":5.25,"v":5.53},{"x":4.75,"y":5.25,"v":5.56},{"x":5.25,"y":5.25,"v":5.59},{"x":5.75,"y":5.25,"v":5.61},{"x":6.25,"y":5.25,"v":5.62},{"x":6.75,"y":5.25,"v":5.63},{"x":7.25,"y":5.25,"v":5.63},{"x":7.75,"y":5.25,"v":5.63},{"x":8.25,"y":5.25,"v":5.63},{"x":8.75,"y":5.25,"v":5.62},{"x":9.25,"y":5.25,"v":5.61},{"x":9.75,"y":5.25,"v":5.59},{"x":10.25,"y":5.25,"v":5.56},{"x":10.75,"y":5.25,"v":5.54},{"x":11.25,"y":5.25,"v":5.53},{"x":11.75,"y":5.25,"v":5.53},{"x":12.25,"y":5.25,"v":5.53},{"x":12.75,"y":5.25,"v":5.53},{"x":13.25,"y":5.25,"v":5.53},{"x":13.75,"y":5.25,"v":5.54},{"x":14.25,"y":5.25,"v":5.53},{"x":14.75,"y":5.25,"v":5.53},{"x":15.25,"y":5.25,"v":5.53},{"x":15.75,"y":5.25,"v":5.53},{"x":16.25,"y":5.25,"v":5.53},
{"x":0.75,"y":4.75,"v":5.53},{"x":1.25,"y":4.75,"v":5.52},{"x":1.75,"y":4.75,"v":5.53},{"x":2.25,"y":4.75,"v":5.53},{"x":2.75,"y":4.75,"v":5.53},{"x":3.25,"y":4.75,"v":5.53},{"x":3.75,"y":4.75,"v":5.53},{"x":4.25,"y":4.75,"v":5.53},{"x":4.75,"y":4.75,"v":5.53},{"x":5.25,"y":4.75,"v":5.53},{"x":5.75,"y":4.75,"v":5.54},{"x":6.25,"y":4.75,"v":5.57},{"x":6.75,"y":4.75,"v":5.58},{"x":7.25,"y":4.75,"v":5.58},{"x":7.75,"y":4.75,"v":5.58},{"x":8.25,"y":4.75,"v":5.58},{"x":8.75,"y":4.75,"v":5.57},{"x":9.25,"y":4.75,"v":5.55},{"x":9.75,"y":4.75,"v":5.54},{"x":10.25,"y":4.75,"v":5.53},{"x":10.75,"y":4.75,"v":5.53},{"x":11.25,"y":4.75,"v":5.53},{"x":11.75,"y":4.75,"v":5.53},{"x":12.25,"y":4.75,"v":5.52},{"x":12.75,"y":4.75,"v":5.53},{"x":13.25,"y":4.75,"v":5.53},{"x":13.75,"y":4.75,"v":5.53},{"x":14.25,"y":4.75,"v":5.53},{"x":14.75,"y":4.75,"v":5.53},{"x":15.25,"y":4.75,"v":5.53},{"x":15.75,"y":4.75,"v":5.54},{"x":16.25,"y":4.75,"v":5.53},
{"x":0.75,"y":4.25,"v":5.53},{"x":1.25,"y":4.25,"v":5.53},{"x":1.75,"y":4.25,"v":5.53},{"x":2.25,"y":4.25,"v":5.54},{"x":2.75,"y":4.25,"v":5.53},{"x":3.25,"y":4.25,"v":5.53},{"x":3.75,"y":4.25,"v":5.53},{"x":4.25,"y":4.25,"v":5.52},{"x":4.75,"y":4.25,"v":5.53},{"x":5.25,"y":4.25,"v":5.53},{"x":5.75,"y":4.25,"v":5.53},{"x":6.25,"y":4.25,"v":5.53},{"x":6.75,"y":4.25,"v":5.54},{"x":7.25,"y":4.25,"v":5.53},{"x":7.75,"y":4.25,"v":5.53},{"x":8.25,"y":4.25,"v":5.53},{"x":8.75,"y":4.25,"v":5.53},{"x":9.25,"y":4.25,"v":5.53},{"x":9.75,"y":4.25,"v":5.53},{"x":10.25,"y":4.25,"v":5.54},{"x":10.75,"y":4.25,"v":5.53},{"x":11.25,"y":4.25,"v":5.53},{"x":11.75,"y":4.25,"v":5.53},{"x":12.25,"y":4.25,"v":5.53},{"x":12.75,"y":4.25,"v":5.53},{"x":13.25,"y":4.25,"v":5.53},{"x":13.75,"y":4.25,"v":5.53},{"x":14.25,"y":4.25,"v":5.54},{"x":14.75,"y":4.25,"v":5.53},{"x":15.25,"y":4.25,"v":5.53},{"x":15.75,"y":4.25,"v":5.53},{"x":16.25,"y":4.25,"v":5.53},
{"x":0.75,"y":3.75,"v":5.54},{"x":1.25,"y":3.75,"v":5.53},{"x":1.75,"y":3.75,"v":5.53},{"x":2.25,"y":3.75,"v":5.53},{"x":2.75,"y":3.75,"v":5.53},{"x":3.25,"y":3.75,"v":5.53},{"x":3.75,"y":3.75,"v":5.54},{"x":4.25,"y":3.75,"v":5.53},{"x":4.75,"y":3.75,"v":5.53},{"x":5.25,"y":3.75,"v":5.52},{"x":5.75,"y":3.75,"v":5.52},{"x":6.25,"y":3.75,"v":5.53},{"x":6.75,"y":3.75,"v":5.53},{"x":7.25,"y":3.75,"v":5.53},{"x":7.75,"y":3.75,"v":5.53},{"x":8.25,"y":3.75,"v":5.52},{"x":8.75,"y":3.75,"v":5.53},{"x":9.25,"y":3.75,"v":5.53},{"x":9.75,"y":3.75,"v":5.53},{"x":10.25,"y":3.75,"v":5.53},{"x":10.75,"y":3.75,"v":5.53},{"x":11.25,"y":3.75,"v":5.54},{"x":11.75,"y":3.75,"v":5.53},{"x":12.25,"y":3.75,"v":5.53},{"x":12.75,"y":3.75,"v":5.53},{"x":13.25,"y":3.75,"v":5.52},{"x":13.75,"y":3.75,"v":5.53},{"x":14.25,"y":3.75,"v":5.53},{"x":14.75,"y":3.75,"v":5.53},{"x":15.25,"y":3.75,"v":5.54},{"x":15.75,"y":3.75,"v":5.53},{"x":16.25,"y":3.75,"v":5.53},
{"x":0.75,"y":3.25,"v":5.53},{"x":1.25,"y":3.25,"v":5.53},{"x":1.75,"y":3.25,"v":5.52},{"x":2.25,"y":3.25,"v":5.53},{"x":2.75,"y":3.25,"v":5.53},{"x":3.25,"y":3.25,"v":5.54},{"x":3.75,"y":3.25,"v":5.53},{"x":4.25,"y":3.25,"v":5.53},{"x":4.75,"y":3.25,"v":5.53},{"x":5.25,"y":3.25,"v":5.53},{"x":5.75,"y":3.25,"v":5.53},{"x":6.25,"y":3.25,"v":5.52},{"x":6.75,"y":3.25,"v":5.53},{"x":7.25,"y":3.25,"v":5.53},{"x":7.75,"y":3.25,"v":5.54},{"x":8.25,"y":3.25,"v":5.53},{"x":8.75,"y":3.25,"v":5.53},{"x":9.25,"y":3.25,"v":5.53},{"x":9.75,"y":3.25,"v":5.52},{"x":10.25,"y":3.25,"v":5.53},{"x":10.75,"y":3.25,"v":5.53},{"x":11.25,"y":3.25,"v":5.53},{"x":11.75,"y":3.25,"v":5.53},{"x":12.25,"y":3.25,"v":5.54},{"x":12.75,"y":3.25,"v":5.53},{"x":13.25,"y":3.25,"v":5.53},{"x":13.75,"y":3.25,"v":5.53},{"x":14.25,"y":3.25,"v":5.53},{"x":14.75,"y":3.25,"v":5.52},{"x":15.25,"y":3.25,"v":5.53},{"x":15.75,"y":3.25,"v":5.53},{"x":16.25,"y":3.25,"v":5.53},
{"x":0.75,"y":2.75,"v":5.53},{"x":1.25,"y":2.75,"v":5.54},{"x":1.75,"y":2.75,"v":5.53},{"x":2.25,"y":2.75,"v":5.53},{"x":2.75,"y":2.75,"v":5.53},{"x":3.25,"y":2.75,"v":5.53},{"x":3.75,"y":2.75,"v":5.52},{"x":4.25,"y":2.75,"v":5.53},{"x":4.75,"y":2.75,"v":5.53},{"x":5.25,"y":2.75,"v":5.54},{"x":5.75,"y":2.75,"v":5.53},{"x":6.25,"y":2.75,"v":5.53},{"x":6.75,"y":2.75,"v":5.53},{"x":7.25,"y":2.75,"v":5.52},{"x":7.75,"y":2.75,"v":5.53},{"x":8.25,"y":2.75,"v":5.53},{"x":8.75,"y":2.75,"v":5.53},{"x":9.25,"y":2.75,"v":5.53},{"x":9.75,"y":2.75,"v":5.53},{"x":10.25,"y":2.75,"v":5.54},{"x":10.75,"y":2.75,"v":5.53},{"x":11.25,"y":2.75,"v":5.53},{"x":11.75,"y":2.75,"v":5.53},{"x":12.25,"y":2.75,"v":5.53},{"x":12.75,"y":2.75,"v":5.53},{"x":13.25,"y":2.75,"v":5.53},{"x":13.75,"y":2.75,"v":5.54},{"x":14.25,"y":2.75,"v":5.53},{"x":14.75,"y":2.75,"v":5.53},{"x":15.25,"y":2.75,"v":5.53},{"x":15.75,"y":2.75,"v":5.53},{"x":16.25,"y":2.75,"v":5.54},
{"x":0.75,"y":2.25,"v":5.53},{"x":1.25,"y":2.25,"v":5.53},{"x":1.75,"y":2.25,"v":5.53},{"x":2.25,"y":2.25,"v":5.53},{"x":2.75,"y":2.25,"v":5.54},{"x":3.25,"y":2.25,"v":5.53},{"x":3.75,"y":2.25,"v":5.53},{"x":4.25,"y":2.25,"v":5.52},{"x":4.75,"y":2.25,"v":5.53},{"x":5.25,"y":2.25,"v":5.53},{"x":5.75,"y":2.25,"v":5.53},{"x":6.25,"y":2.25,"v":5.54},{"x":6.75,"y":2.25,"v":5.53},{"x":7.25,"y":2.25,"v":5.53},{"x":7.75,"y":2.25,"v":5.53},{"x":8.25,"y":2.25,"v":5.53},{"x":8.75,"y":2.25,"v":5.52},{"x":9.25,"y":2.25,"v":5.53},{"x":9.75,"y":2.25,"v":5.53},{"x":10.25,"y":2.25,"v":5.53},{"x":10.75,"y":2.25,"v":5.53},{"x":11.25,"y":2.25,"v":5.53},{"x":11.75,"y":2.25,"v":5.54},{"x":12.25,"y":2.25,"v":5.53},{"x":12.75,"y":2.25,"v":5.53},{"x":13.25,"y":2.25,"v":5.53},{"x":13.75,"y":2.25,"v":5.52},{"x":14.25,"y":2.25,"v":5.53},{"x":14.75,"y":2.25,"v":5.53},{"x":15.25,"y":2.25,"v":5.53},{"x":15.75,"y":2.25,"v":5.53},{"x":16.25,"y":2.25,"v":5.53},
{"x":0.75,"y":1.75,"v":5.53},{"x":1.25,"y":1.75,"v":5.53},{"x":1.75,"y":1.75,"v":5.54},{"x":2.25,"y":1.75,"v":5.53},{"x":2.75,"y":1.75,"v":5.53},{"x":3.25,"y":1.75,"v":5.53},{"x":3.75,"y":1.75,"v":5.53},{"x":4.25,"y":1.75,"v":5.53},{"x":4.75,"y":1.75,"v":5.52},{"x":5.25,"y":1.75,"v":5.53},{"x":5.75,"y":1.75,"v":5.53},{"x":6.25,"y":1.75,"v":5.53},{"x":6.75,"y":1.75,"v":5.53},{"x":7.25,"y":1.75,"v":5.54},{"x":7.75,"y":1.75,"v":5.53},{"x":8.25,"y":1.75,"v":5.53},{"x":8.75,"y":1.75,"v":5.53},{"x":9.25,"y":1.75,"v":5.53},{"x":9.75,"y":1.75,"v":5.53},{"x":10.25,"y":1.75,"v":5.53},{"x":10.75,"y":1.75,"v":5.52},{"x":11.25,"y":1.75,"v":5.53},{"x":11.75,"y":1.75,"v":5.53},{"x":12.25,"y":1.75,"v":5.54},{"x":12.75,"y":1.75,"v":5.53},{"x":13.25,"y":1.75,"v":5.54},{"x":13.75,"y":1.75,"v":5.53},{"x":14.25,"y":1.75,"v":5.53},{"x":14.75,"y":1.75,"v":5.53},{"x":15.25,"y":1.75,"v":5.52},{"x":15.75,"y":1.75,"v":5.53},{"x":16.25,"y":1.75,"v":5.53},
{"x":0.75,"y":1.25,"v":5.53},{"x":1.25,"y":1.25,"v":5.53},{"x":1.75,"y":1.25,"v":5.53},{"x":2.25,"y":1.25,"v":5.52},{"x":2.75,"y":1.25,"v":5.52},{"x":3.25,"y":1.25,"v":5.53},{"x":3.75,"y":1.25,"v":5.53},{"x":4.25,"y":1.25,"v":5.53},{"x":4.75,"y":1.25,"v":5.53},{"x":5.25,"y":1.25,"v":5.53},{"x":5.75,"y":1.25,"v":5.54},{"x":6.25,"y":1.25,"v":5.53},{"x":6.75,"y":1.25,"v":5.53},{"x":7.25,"y":1.25,"v":5.53},{"x":7.75,"y":1.25,"v":5.53},{"x":8.25,"y":1.25,"v":5.53},{"x":8.75,"y":1.25,"v":5.52},{"x":9.25,"y":1.25,"v":5.53},{"x":9.75,"y":1.25,"v":5.53},{"x":10.25,"y":1.25,"v":5.54},{"x":10.75,"y":1.25,"v":5.53},{"x":11.25,"y":1.25,"v":5.53},{"x":11.75,"y":1.25,"v":5.53},{"x":12.25,"y":1.25,"v":5.53},{"x":12.75,"y":1.25,"v":5.53},{"x":13.25,"y":1.25,"v":5.53},{"x":13.75,"y":1.25,"v":5.53},{"x":14.25,"y":1.25,"v":5.54},{"x":14.75,"y":1.25,"v":5.53},{"x":15.25,"y":1.25,"v":5.53},{"x":15.75,"y":1.25,"v":5.53},{"x":16.25,"y":1.25,"v":5.53},
{"x":0.75,"y":0.75,"v":5.53},{"x":1.25,"y":0.75,"v":5.54},{"x":1.75,"y":0.75,"v":5.53},{"x":2.25,"y":0.75,"v":5.53},{"x":2.75,"y":0.75,"v":5.53},{"x":3.25,"y":0.75,"v":5.53},{"x":3.75,"y":0.75,"v":5.53},{"x":4.25,"y":0.75,"v":5.54},{"x":4.75,"y":0.75,"v":5.53},{"x":5.25,"y":0.75,"v":5.53},{"x":5.75,"y":0.75,"v":5.53},{"x":6.25,"y":0.75,"v":5.52},{"x":6.75,"y":0.75,"v":5.53},{"x":7.25,"y":0.75,"v":5.53},{"x":7.75,"y":0.75,"v":5.53},{"x":8.25,"y":0.75,"v":5.53},{"x":8.75,"y":0.75,"v":5.53},{"x":9.25,"y":0.75,"v":5.54},{"x":9.75,"y":0.75,"v":5.53},{"x":10.25,"y":0.75,"v":5.53},{"x":10.75,"y":0.75,"v":5.52},{"x":11.25,"y":0.75,"v":5.53},{"x":11.75,"y":0.75,"v":5.53},{"x":12.25,"y":0.75,"v":5.53},{"x":12.75,"y":0.75,"v":5.53},{"x":13.25,"y":0.75,"v":5.53},{"x":13.75,"y":0.75,"v":5.54},{"x":14.25,"y":0.75,"v":5.53},{"x":14.75,"y":0.75,"v":5.53},{"x":15.25,"y":0.75,"v":5.53},{"x":15.75,"y":0.75,"v":5.53},{"x":16.25,"y":0.75,"v":5.53}
]},"mark":{"type":"rect","width":8,"height":8},"encoding":{"color":{"field":"v","type":"quantitative","scale":{"domain":[5.51,5.557,5.604,5.651,5.698,5.745,5.791,5.838,5.885],"range":["#3e26a8","#4749ed","#2f80f7","#19a8d2","#12bfb0","#73c95f","#d0bb3c","#fcbc3b","#f9fb15"]},"legend":{"orient":"none","legendX":289,"legendY":1,"direction":"vertical","title":null,"gradientLength":234,"gradientThickness":15,"gradientStrokeColor":"#999","values":[5.55,5.6,5.65,5.7,5.75,5.8,5.85],"labelFontSize":8.5,"labelColor":"#666","labelOffset":3,"labelExpr":"''+datum.value"}}}},
{"data":{"values":[{"x":-2.75,"y":16.55,"t":"a)"}]},"mark":{"type":"text","font":"Open Sans","fontSize":16.5,"color":"#222"},"encoding":{"text":{"field":"t"}}},
{"data":{"values":[{"x":20.38,"y":13.94,"t":"Brillouin shift Ω"}]},"mark":{"type":"text","angle":90,"align":"left","baseline":"middle","font":"Liberation Sans","fontSize":11.5,"color":"#222"},"encoding":{"text":{"field":"t"}}},
{"data":{"values":[{"x":20.05,"y":8.1,"t":"B"}]},"mark":{"type":"text","angle":90,"align":"left","baseline":"middle","font":"Liberation Sans","fontSize":8,"color":"#222"},"encoding":{"text":{"field":"t"}}},
{"data":{"values":[{"x":20.38,"y":7.5,"t":"/ 2 π /GHz"}]},"mark":{"type":"text","angle":90,"align":"left","baseline":"middle","font":"Liberation Sans","fontSize":11.5,"color":"#222"},"encoding":{"text":{"field":"t"}}},
{"data":{"values":[{"x":0.5,"x2":16.5,"y":0.5,"y2":17.5}]},"mark":{"type":"rect","fill":"transparent","stroke":"#aaa","strokeWidth":1},"encoding":{"x2":{"field":"x2"},"y2":{"field":"y2"}}}
]},
{"encoding":{"x":{"field":"x","type":"quantitative","scale":{"domain":[1,8],"range":[417.3,668.7]},"axis":{"orient":"bottom","offset":-337,"values":[1,2,3,4,5,6,7,8],"title":"Number of clusters","tickSize":-3,"tickColor":"#555","labelPadding":6,"labelFontSize":9,"labelColor":"#444","titleFontSize":11.2,"titleColor":"#333","titlePadding":12}},
"y":{"field":"y","type":"quantitative","scale":{"domain":[0,450],"range":[219,22.7]},"axis":{"orient":"left","offset":-417.3,"values":[0,50,100,150,200,250,300,350,400,450],"title":"WCSS","tickSize":-3,"tickColor":"#555","labelPadding":5,"labelFontSize":9,"labelColor":"#444","titleFontSize":11.2,"titleColor":"#333","titlePadding":11}}},
"layer":[
{"data":{"values":[{"x":1,"x2":8,"y":0,"y2":450}]},"mark":{"type":"rect","fill":"transparent","stroke":"#888","strokeWidth":1},"encoding":{"x2":{"field":"x2"},"y2":{"field":"y2"}}},
{"data":{"name":"wcss","values":[{"x":1,"y":421},{"x":2,"y":66},{"x":3,"y":26},{"x":4,"y":15},{"x":5,"y":10},{"x":6,"y":8},{"x":7,"y":6},{"x":8,"y":5.5}]},"mark":{"type":"line","color":"#4a9fdc","strokeWidth":1,"point":{"filled":false,"fill":"transparent","stroke":"#4a9fdc","size":22,"strokeWidth":0.8}}},
{"data":{"values":[{"x":3,"y":207,"x2":3,"y2":60}]},"mark":{"type":"rule","color":"#222","strokeWidth":0.8},"encoding":{"x2":{"field":"x2"},"y2":{"field":"y2"}}},
{"data":{"values":[{"x":3,"y":56}]},"mark":{"type":"point","shape":"triangle-down","filled":true,"color":"#111","size":45,"opacity":1}},
{"data":{"values":[{"x":2.63,"y":275,"t":"Knee"},{"x":2.63,"y":233,"t":"point"}]},"mark":{"type":"text","align":"left","font":"Open Sans","fontSize":14.5,"color":"#222"},"encoding":{"text":{"field":"t"}}},
{"data":{"values":[{"x":-0.094,"y":471,"t":"b)"}]},"mark":{"type":"text","font":"Open Sans","fontSize":16.5,"color":"#222"},"encoding":{"text":{"field":"t"}}}
]},
{"encoding":{"x":{"field":"x","type":"quantitative","scale":{"domain":[1,8],"range":[417.3,668.7]},"axis":{"orient":"top","offset":-22.7,"values":[1,2,3,4,5,6,7,8],"title":null,"labels":false,"tickSize":-3,"tickColor":"#555"}},
"y":{"field":"y","type":"quantitative","scale":{"domain":[0,450],"range":[219,22.7]},"axis":{"orient":"right","offset":-337.3,"values":[0,50,100,150,200,250,300,350,400,450],"title":null,"labels":false,"tickSize":-3,"tickColor":"#555"}}},
"data":{"values":[{"x":1,"y":0}]},"mark":{"type":"point","opacity":0}},
{"encoding":{"x":{"field":"x","type":"quantitative","scale":{"domain":[0,978],"range":[680,1006]},"axis":null},"y":{"field":"y","type":"quantitative","scale":{"domain":[0,810],"range":[0,270]},"axis":null}},
"layer":[
{"data":{"values":[{"x":140,"y":212,"x2":585,"y2":95},{"x":140,"y":269,"x2":585,"y2":151},{"x":140,"y":326,"x2":585,"y2":207},{"x":140,"y":383,"x2":585,"y2":264},{"x":140,"y":440,"x2":585,"y2":320},{"x":140,"y":497,"x2":585,"y2":376},{"x":140,"y":552,"x2":585,"y2":432},{"x":229,"y":189,"x2":229,"y2":528},{"x":318,"y":165,"x2":318,"y2":504},{"x":407,"y":142,"x2":407,"y2":480},{"x":496,"y":119,"x2":496,"y2":456},{"x":585,"y":95,"x2":585,"y2":432},{"x":585,"y":95,"x2":925,"y2":240},{"x":585,"y":151,"x2":925,"y2":298},{"x":585,"y":207,"x2":925,"y2":356},{"x":585,"y":264,"x2":925,"y2":414},{"x":585,"y":320,"x2":925,"y2":472},{"x":585,"y":376,"x2":925,"y2":530},{"x":585,"y":432,"x2":925,"y2":590},{"x":630,"y":114,"x2":630,"y2":453},{"x":720,"y":153,"x2":720,"y2":495},{"x":810,"y":191,"x2":810,"y2":537},{"x":900,"y":229,"x2":900,"y2":578},{"x":229,"y":528,"x2":578,"y2":688},{"x":318,"y":504,"x2":665,"y2":665},{"x":407,"y":480,"x2":750,"y2":640},{"x":496,"y":456,"x2":838,"y2":615},{"x":180,"y":570,"x2":630,"y2":453},{"x":272,"y":614,"x2":720,"y2":495},{"x":365,"y":660,"x2":810,"y2":537},{"x":458,"y":700,"x2":900,"y2":578}]},"mark":{"type":"rule","color":"#e4e4e4","strokeWidth":0.8},"encoding":{"x2":{"field":"x2"},"y2":{"field":"y2"}}},
{"data":{"values":[{"x":140,"y":212,"x2":140,"y2":552},{"x":140,"y":552,"x2":490,"y2":712},{"x":490,"y":712,"x2":925,"y2":590}]},"mark":{"type":"rule","color":"#888","strokeWidth":0.8},"encoding":{"x2":{"field":"x2"},"y2":{"field":"y2"}}},
{"data":{"values":[{"x":120,"y":207,"t":"0.15"},{"x":120,"y":266,"t":"0.1"},{"x":120,"y":324,"t":"0.05"},{"x":120,"y":381,"t":"0"},{"x":120,"y":438,"t":"-0.05"},{"x":120,"y":495,"t":"-0.1"},{"x":120,"y":552,"t":"-0.15"}]},"mark":{"type":"text","align":"right","font":"Liberation Sans","fontSize":8.5,"color":"#555"},"encoding":{"text":{"field":"t"}}},
{"data":{"values":[{"x":510,"y":738,"t":"-2"},{"x":610,"y":715,"t":"-1.5"},{"x":690,"y":690,"t":"-1"},{"x":790,"y":667,"t":"-0.5"},{"x":862,"y":642,"t":"0"},{"x":962,"y":617,"t":"0.5"},{"x":152,"y":600,"t":"0.2"},{"x":250,"y":641,"t":"0"},{"x":328,"y":683,"t":"-0.2"},{"x":415,"y":725,"t":"-0.4"},{"x":287,"y":735,"t":"PC2"},{"x":700,"y":745,"t":"PC1"}]},"mark":{"type":"text","font":"Liberation Sans","fontSize":8.5,"color":"#555"},"encoding":{"text":{"field":"t"}}},
{"data":{"values":[{"x":42,"y":385,"t":"PC3"}]},"mark":{"type":"text","angle":270,"font":"Liberation Sans","fontSize":8.5,"color":"#555"},"encoding":{"text":{"field":"t"}}},
{"data":{"values":[{"x":57,"y":42,"t":"c)"}]},"mark":{"type":"text","font":"Open Sans","fontSize":16.5,"color":"#222"},"encoding":{"text":{"field":"t"}}},
{"data":{"values":[{"x":572,"y":202},{"x":650,"y":226},{"x":557,"y":243},{"x":585,"y":240},{"x":628,"y":236},{"x":660,"y":236},{"x":563,"y":255},{"x":578,"y":262},{"x":547,"y":272},{"x":560,"y":275},{"x":575,"y":280},{"x":590,"y":285},{"x":617,"y":260},{"x":620,"y":275},{"x":640,"y":262},{"x":520,"y":290},{"x":528,"y":292},{"x":545,"y":293},{"x":560,"y":295},{"x":575,"y":300},{"x":580,"y":295},{"x":600,"y":298},{"x":615,"y":285},{"x":605,"y":310},{"x":590,"y":318},{"x":575,"y":320},{"x":545,"y":315},{"x":560,"y":312},{"x":600,"y":330},{"x":622,"y":330},{"x":640,"y":315},{"x":630,"y":345},{"x":570,"y":352},{"x":585,"y":358},{"x":600,"y":350},{"x":580,"y":345},{"x":575,"y":365},{"x":635,"y":350},{"x":660,"y":352},{"x":643,"y":392},{"x":658,"y":380},{"x":670,"y":365},{"x":690,"y":395},{"x":697,"y":412},{"x":725,"y":445},{"x":742,"y":452},{"x":737,"y":430},{"x":720,"y":425},{"x":745,"y":410},{"x":735,"y":350},{"x":740,"y":395},
{"x":647,"y":265},{"x":656,"y":263},{"x":664,"y":267},{"x":673,"y":264},{"x":680,"y":266},{"x":649,"y":273},{"x":658,"y":275},{"x":667,"y":272},{"x":676,"y":274},{"x":685,"y":272},{"x":651,"y":281},{"x":660,"y":283},{"x":669,"y":280},{"x":678,"y":282},{"x":689,"y":280},{"x":652,"y":289},{"x":661,"y":291},{"x":670,"y":288},{"x":680,"y":290},{"x":688,"y":288},{"x":695,"y":290},{"x":654,"y":297},{"x":663,"y":299},{"x":672,"y":296},{"x":681,"y":298},{"x":690,"y":296},{"x":699,"y":298},{"x":656,"y":305},{"x":665,"y":307},{"x":674,"y":304},{"x":683,"y":306},{"x":692,"y":304},{"x":704,"y":306},{"x":658,"y":313},{"x":667,"y":315},{"x":676,"y":312},{"x":685,"y":314},{"x":694,"y":312},{"x":703,"y":314},{"x":711,"y":312},{"x":661,"y":321},{"x":670,"y":323},{"x":679,"y":320},{"x":688,"y":322},{"x":697,"y":320},{"x":706,"y":322},{"x":717,"y":320},{"x":663,"y":329},{"x":672,"y":331},{"x":681,"y":328},{"x":690,"y":330},{"x":699,"y":328},{"x":708,"y":330},{"x":721,"y":328},{"x":666,"y":337},{"x":675,"y":339},{"x":684,"y":336},{"x":693,"y":338},{"x":702,"y":336},{"x":711,"y":338},{"x":720,"y":336},{"x":726,"y":338},{"x":669,"y":345},{"x":678,"y":347},{"x":687,"y":344},{"x":696,"y":346},{"x":705,"y":344},{"x":714,"y":346},{"x":723,"y":344},{"x":731,"y":346},{"x":673,"y":353},{"x":682,"y":355},{"x":691,"y":352},{"x":700,"y":354},{"x":709,"y":352},{"x":718,"y":354},{"x":727,"y":352},{"x":735,"y":354},{"x":676,"y":361},{"x":685,"y":363},{"x":694,"y":360},{"x":703,"y":362},{"x":712,"y":360},{"x":721,"y":362},{"x":730,"y":360},{"x":737,"y":362},{"x":681,"y":369},{"x":690,"y":371},{"x":699,"y":368},{"x":708,"y":370},{"x":717,"y":368},{"x":726,"y":370},{"x":735,"y":368},{"x":686,"y":377},{"x":695,"y":379},{"x":704,"y":376},{"x":713,"y":378},{"x":722,"y":376},{"x":731,"y":378},{"x":741,"y":376},{"x":691,"y":385},{"x":700,"y":387},{"x":709,"y":384},{"x":718,"y":386},{"x":727,"y":384},{"x":736,"y":386},{"x":743,"y":384},{"x":696,"y":393},{"x":705,"y":395},{"x":714,"y":392},{"x":723,"y":394},{"x":732,"y":392},{"x":744,"y":394},{"x":701,"y":401},{"x":710,"y":403},{"x":719,"y":400},{"x":728,"y":402},{"x":737,"y":400},{"x":745,"y":402},{"x":709,"y":409},{"x":718,"y":411},{"x":727,"y":408},{"x":736,"y":410},{"x":744,"y":408},{"x":716,"y":417},{"x":725,"y":419},{"x":734,"y":416},{"x":741,"y":418},{"x":723,"y":425},{"x":731,"y":427},{"x":738,"y":424},
{"x":652,"y":269},{"x":661,"y":269},{"x":670,"y":269},{"x":679,"y":269},{"x":655,"y":285},{"x":664,"y":285},{"x":673,"y":285},{"x":682,"y":285},{"x":658,"y":301},{"x":667,"y":301},{"x":676,"y":301},{"x":685,"y":301},{"x":694,"y":301},{"x":662,"y":317},{"x":671,"y":317},{"x":680,"y":317},{"x":689,"y":317},{"x":698,"y":317},{"x":707,"y":317},{"x":667,"y":333},{"x":676,"y":333},{"x":685,"y":333},{"x":694,"y":333},{"x":703,"y":333},{"x":712,"y":333},{"x":672,"y":349},{"x":681,"y":349},{"x":690,"y":349},{"x":699,"y":349},{"x":708,"y":349},{"x":717,"y":349},{"x":726,"y":349},{"x":680,"y":365},{"x":689,"y":365},{"x":698,"y":365},{"x":707,"y":365},{"x":716,"y":365},{"x":725,"y":365},{"x":688,"y":381},{"x":697,"y":381},{"x":706,"y":381},{"x":715,"y":381},{"x":724,"y":381},{"x":733,"y":381},{"x":698,"y":397},{"x":707,"y":397},{"x":716,"y":397},{"x":725,"y":397},{"x":734,"y":397},{"x":712,"y":413},{"x":721,"y":413},{"x":730,"y":413}]},"mark":{"type":"point","shape":"circle","filled":false,"fill":"transparent","stroke":"#0000ff","size":24,"strokeWidth":0.9,"opacity":1}},
{"data":{"values":[{"x":443,"y":238},{"x":465,"y":236},{"x":510,"y":228},{"x":490,"y":245},{"x":480,"y":252},{"x":458,"y":258},{"x":440,"y":265},{"x":462,"y":270},{"x":405,"y":278},{"x":372,"y":288},{"x":397,"y":283},{"x":490,"y":280},{"x":470,"y":282},{"x":462,"y":290},{"x":448,"y":298},{"x":428,"y":303},{"x":478,"y":298},{"x":515,"y":283},{"x":505,"y":318},{"x":498,"y":325},{"x":490,"y":335},{"x":455,"y":308},{"x":470,"y":310},{"x":445,"y":318},{"x":432,"y":322},{"x":395,"y":325},{"x":378,"y":332},{"x":368,"y":345},{"x":338,"y":342},{"x":388,"y":345},{"x":405,"y":352},{"x":415,"y":355},{"x":410,"y":365},{"x":383,"y":355},{"x":362,"y":355},{"x":345,"y":376},{"x":370,"y":380},{"x":390,"y":385},{"x":425,"y":335},{"x":443,"y":335},{"x":455,"y":340},{"x":470,"y":332},{"x":462,"y":352},{"x":480,"y":318},{"x":510,"y":340},{"x":525,"y":340},{"x":535,"y":340},{"x":500,"y":340},{"x":535,"y":370},{"x":470,"y":370},{"x":440,"y":395},{"x":420,"y":380},{"x":405,"y":395},{"x":378,"y":408},{"x":385,"y":410},{"x":372,"y":395},{"x":362,"y":372},{"x":432,"y":308},{"x":458,"y":325},{"x":488,"y":290}]},"mark":{"type":"point","shape":"M-1,0L1,0M0,-1L0,1","filled":false,"fill":"transparent","stroke":"#00ff00","size":36,"strokeWidth":0.9,"opacity":1}},
{"data":{"values":[{"x":323,"y":349},{"x":483,"y":364},{"x":320,"y":400},{"x":425,"y":380},{"x":395,"y":375},{"x":370,"y":368},{"x":375,"y":378},{"x":368,"y":388},{"x":375,"y":400},{"x":360,"y":395},{"x":345,"y":412},{"x":350,"y":425},{"x":340,"y":425},{"x":333,"y":442},{"x":355,"y":428},{"x":365,"y":415},{"x":380,"y":420},{"x":395,"y":415},{"x":410,"y":405},{"x":440,"y":395},{"x":478,"y":393},{"x":453,"y":410},{"x":490,"y":415},{"x":430,"y":420},{"x":415,"y":430},{"x":405,"y":425},{"x":390,"y":430},{"x":375,"y":435},{"x":360,"y":440},{"x":350,"y":455},{"x":362,"y":458},{"x":375,"y":450},{"x":385,"y":445},{"x":400,"y":445},{"x":420,"y":445},{"x":440,"y":450},{"x":460,"y":440},{"x":475,"y":445},{"x":485,"y":450},{"x":497,"y":450},{"x":502,"y":450},{"x":490,"y":460},{"x":470,"y":455},{"x":455,"y":460},{"x":445,"y":465},{"x":430,"y":470},{"x":415,"y":470},{"x":395,"y":460},{"x":380,"y":470},{"x":365,"y":465},{"x":345,"y":488},{"x":370,"y":482},{"x":390,"y":478},{"x":405,"y":478},{"x":420,"y":468},{"x":440,"y":480},{"x":460,"y":485},{"x":475,"y":482},{"x":495,"y":487},{"x":445,"y":495},{"x":462,"y":497},{"x":438,"y":497},{"x":370,"y":505},{"x":395,"y":500},{"x":342,"y":519},{"x":392,"y":518},{"x":388,"y":528},{"x":450,"y":515},{"x":465,"y":557},{"x":385,"y":490},{"x":355,"y":470},{"x":365,"y":440},{"x":408,"y":455},{"x":425,"y":455},{"x":470,"y":468},{"x":330,"y":415},{"x":345,"y":440},{"x":452,"y":450}]},"mark":{"type":"point","shape":"triangle-up","filled":false,"fill":"transparent","stroke":"#ff0000","size":24,"strokeWidth":0.8,"opacity":1}}
]},
{"encoding":{"x":{"field":"x","type":"quantitative","scale":{"domain":[4.05,7.44],"range":[59.3,361]},"axis":{"orient":"bottom","offset":-39,"values":[4.5,5,5.5,6,6.5,7],"title":null,"tickSize":-3,"tickColor":"#555","labelPadding":7,"labelFontSize":11,"labelColor":"#444","format":"~g"}},
"y":{"field":"y","type":"quantitative","scale":{"domain":[0,1.4],"range":[517,280]},"axis":{"orient":"left","offset":-59.3,"values":[0,0.2,0.4,0.6,0.8,1,1.2,1.4],"title":"Spectrum (a.u.)","tickSize":-3,"tickColor":"#555","labelPadding":5,"labelFontSize":11,"labelColor":"#444","titleFont":"Open Sans","titleFontSize":13,"titleColor":"#222","titlePadding":12,"format":"~g"}}},
"layer":[
{"data":{"values":[{"x":4.05,"x2":7.44,"y":0,"y2":1.4}]},"mark":{"type":"rect","fill":"transparent","stroke":"#666","strokeWidth":1},"encoding":{"x2":{"field":"x2"},"y2":{"field":"y2"}}},
{"data":{"values":[
{"x":4.05,"y":0.05,"s":"Cluster 1 center"},{"x":4.25,"y":0.07,"s":"Cluster 1 center"},{"x":4.5,"y":0.095,"s":"Cluster 1 center"},{"x":4.75,"y":0.145,"s":"Cluster 1 center"},{"x":4.9,"y":0.22,"s":"Cluster 1 center"},{"x":5,"y":0.3,"s":"Cluster 1 center"},{"x":5.1,"y":0.43,"s":"Cluster 1 center"},{"x":5.2,"y":0.62,"s":"Cluster 1 center"},{"x":5.3,"y":0.85,"s":"Cluster 1 center"},{"x":5.4,"y":1.06,"s":"Cluster 1 center"},{"x":5.45,"y":1.17,"s":"Cluster 1 center"},{"x":5.5,"y":1.24,"s":"Cluster 1 center"},{"x":5.55,"y":1.245,"s":"Cluster 1 center"},{"x":5.6,"y":1.2,"s":"Cluster 1 center"},{"x":5.65,"y":1.11,"s":"Cluster 1 center"},{"x":5.7,"y":0.98,"s":"Cluster 1 center"},{"x":5.8,"y":0.72,"s":"Cluster 1 center"},{"x":5.9,"y":0.47,"s":"Cluster 1 center"},{"x":6,"y":0.29,"s":"Cluster 1 center"},{"x":6.1,"y":0.21,"s":"Cluster 1 center"},{"x":6.2,"y":0.155,"s":"Cluster 1 center"},{"x":6.3,"y":0.115,"s":"Cluster 1 center"},{"x":6.5,"y":0.07,"s":"Cluster 1 center"},{"x":6.75,"y":0.045,"s":"Cluster 1 center"},{"x":7,"y":0.03,"s":"Cluster 1 center"},{"x":7.44,"y":0.015,"s":"Cluster 1 center"},
{"x":4.05,"y":0.06,"s":"Cluster 2 center"},{"x":4.25,"y":0.08,"s":"Cluster 2 center"},{"x":4.5,"y":0.105,"s":"Cluster 2 center"},{"x":4.75,"y":0.145,"s":"Cluster 2 center"},{"x":4.9,"y":0.2,"s":"Cluster 2 center"},{"x":5,"y":0.26,"s":"Cluster 2 center"},{"x":5.1,"y":0.35,"s":"Cluster 2 center"},{"x":5.2,"y":0.48,"s":"Cluster 2 center"},{"x":5.3,"y":0.63,"s":"Cluster 2 center"},{"x":5.4,"y":0.81,"s":"Cluster 2 center"},{"x":5.5,"y":0.95,"s":"Cluster 2 center"},{"x":5.55,"y":1,"s":"Cluster 2 center"},{"x":5.63,"y":1.03,"s":"Cluster 2 center"},{"x":5.7,"y":1.01,"s":"Cluster 2 center"},{"x":5.75,"y":0.97,"s":"Cluster 2 center"},{"x":5.8,"y":0.88,"s":"Cluster 2 center"},{"x":5.9,"y":0.72,"s":"Cluster 2 center"},{"x":6,"y":0.56,"s":"Cluster 2 center"},{"x":6.1,"y":0.42,"s":"Cluster 2 center"},{"x":6.2,"y":0.32,"s":"Cluster 2 center"},{"x":6.3,"y":0.24,"s":"Cluster 2 center"},{"x":6.5,"y":0.14,"s":"Cluster 2 center"},{"x":6.75,"y":0.085,"s":"Cluster 2 center"},{"x":7,"y":0.055,"s":"Cluster 2 center"},{"x":7.44,"y":0.027,"s":"Cluster 2 center"},
{"x":4.05,"y":0.07,"s":"Cluster 3 center"},{"x":4.25,"y":0.09,"s":"Cluster 3 center"},{"x":4.5,"y":0.115,"s":"Cluster 3 center"},{"x":4.75,"y":0.145,"s":"Cluster 3 center"},{"x":4.9,"y":0.18,"s":"Cluster 3 center"},{"x":5,"y":0.215,"s":"Cluster 3 center"},{"x":5.1,"y":0.27,"s":"Cluster 3 center"},{"x":5.2,"y":0.33,"s":"Cluster 3 center"},{"x":5.3,"y":0.42,"s":"Cluster 3 center"},{"x":5.4,"y":0.52,"s":"Cluster 3 center"},{"x":5.5,"y":0.63,"s":"Cluster 3 center"},{"x":5.6,"y":0.73,"s":"Cluster 3 center"},{"x":5.7,"y":0.8,"s":"Cluster 3 center"},{"x":5.8,"y":0.84,"s":"Cluster 3 center"},{"x":5.85,"y":0.835,"s":"Cluster 3 center"},{"x":5.9,"y":0.82,"s":"Cluster 3 center"},{"x":6,"y":0.74,"s":"Cluster 3 center"},{"x":6.1,"y":0.63,"s":"Cluster 3 center"},{"x":6.2,"y":0.51,"s":"Cluster 3 center"},{"x":6.3,"y":0.4,"s":"Cluster 3 center"},{"x":6.4,"y":0.31,"s":"Cluster 3 center"},{"x":6.5,"y":0.245,"s":"Cluster 3 center"},{"x":6.75,"y":0.135,"s":"Cluster 3 center"},{"x":7,"y":0.085,"s":"Cluster 3 center"},{"x":7.44,"y":0.042,"s":"Cluster 3 center"}
]},"mark":{"type":"line","clip":true,"strokeWidth":2.3,"interpolate":"monotone"},"encoding":{"color":{"field":"s","type":"nominal","scale":{"domain":["Cluster 1 center","Cluster 2 center","Cluster 3 center","Reconstructed (A)","Reconstructed (B)","Reconstructed (C)"],"range":["#0000ff","#00ff00","#ff0000","#0000ff","#00ff00","#ff6060"]},"legend":null}}},
{"data":{"values":[
{"x":5.3,"y":0.86,"s":"Reconstructed (A)"},{"x":5.4,"y":1.05,"s":"Reconstructed (A)"},{"x":5.5,"y":1.22,"s":"Reconstructed (A)"},{"x":5.55,"y":1.23,"s":"Reconstructed (A)"},{"x":5.6,"y":1.18,"s":"Reconstructed (A)"},{"x":5.7,"y":0.97,"s":"Reconstructed (A)"},
{"x":5.5,"y":0.95,"s":"Reconstructed (B)"},{"x":5.63,"y":1.02,"s":"Reconstructed (B)"},{"x":5.75,"y":0.96,"s":"Reconstructed (B)"},
{"x":4.9,"y":0.18,"s":"Reconstructed (C)"},{"x":5,"y":0.21,"s":"Reconstructed (C)"},{"x":5.1,"y":0.25,"s":"Reconstructed (C)"},{"x":5.2,"y":0.3,"s":"Reconstructed (C)"},{"x":5.3,"y":0.38,"s":"Reconstructed (C)"},{"x":5.4,"y":0.47,"s":"Reconstructed (C)"},{"x":5.5,"y":0.56,"s":"Reconstructed (C)"},{"x":5.6,"y":0.64,"s":"Reconstructed (C)"},{"x":5.7,"y":0.71,"s":"Reconstructed (C)"},{"x":5.8,"y":0.77,"s":"Reconstructed (C)"},{"x":5.9,"y":0.79,"s":"Reconstructed (C)"},{"x":6,"y":0.79,"s":"Reconstructed (C)"},{"x":6.1,"y":0.72,"s":"Reconstructed (C)"},{"x":6.2,"y":0.62,"s":"Reconstructed (C)"},{"x":6.3,"y":0.5,"s":"Reconstructed (C)"},{"x":6.4,"y":0.39,"s":"Reconstructed (C)"},{"x":6.5,"y":0.31,"s":"Reconstructed (C)"},{"x":6.75,"y":0.165,"s":"Reconstructed (C)"},{"x":7,"y":0.09,"s":"Reconstructed (C)"},{"x":7.44,"y":0.04,"s":"Reconstructed (C)"}
]},"mark":{"type":"line","clip":true,"strokeWidth":0.7,"strokeDash":[3,2],"interpolate":"monotone"},"encoding":{"color":{"field":"s","type":"nominal"}}},
{"data":{"values":[{"x":5.957,"x2":7.339,"y":0.856,"y2":1.358}]},"mark":{"type":"rect","fill":"white","stroke":"#444","strokeWidth":1},"encoding":{"x2":{"field":"x2"},"y2":{"field":"y2"}}},
{"data":{"values":[{"x":6.018,"x2":6.239,"y":1.301,"s":"Cluster 1 center"},{"x":6.018,"x2":6.239,"y":1.225,"s":"Cluster 2 center"},{"x":6.018,"x2":6.239,"y":1.149,"s":"Cluster 3 center"}]},"mark":{"type":"rule","strokeWidth":2.3},"encoding":{"x2":{"field":"x2"},"color":{"field":"s","type":"nominal"}}},
{"data":{"values":[{"x":6.018,"x2":6.239,"y":1.072,"s":"Reconstructed (A)"},{"x":6.018,"x2":6.239,"y":0.998,"s":"Reconstructed (B)"},{"x":6.018,"x2":6.239,"y":0.921,"s":"Reconstructed (C)"}]},"mark":{"type":"rule","strokeWidth":0.9,"strokeDash":[3,2]},"encoding":{"x2":{"field":"x2"},"color":{"field":"s","type":"nominal"}}},
{"data":{"values":[{"x":6.278,"y":1.301,"t":"Cluster 1 center"},{"x":6.278,"y":1.225,"t":"Cluster 2 center"},{"x":6.278,"y":1.149,"t":"Cluster 3 center"},{"x":6.278,"y":1.072,"t":"Reconstructed (A)"},{"x":6.278,"y":0.998,"t":"Reconstructed (B)"},{"x":6.278,"y":0.921,"t":"Reconstructed (C)"}]},"mark":{"type":"text","align":"left","font":"Liberation Sans","fontSize":10.5,"color":"#333"},"encoding":{"text":{"field":"t"}}},
{"data":{"values":[{"x":5.395,"y":-0.154,"t":"f  −  f₀"}]},"mark":{"type":"text","font":"Liberation Serif","fontStyle":"italic","fontSize":15,"color":"#222"},"encoding":{"text":{"field":"t"}}},
{"data":{"values":[{"x":5.855,"y":-0.154,"t":"/ GHz"}]},"mark":{"type":"text","font":"Open Sans","fontSize":12.5,"color":"#222"},"encoding":{"text":{"field":"t"}}},
{"data":{"values":[{"x":3.563,"y":1.424,"t":"d)"}]},"mark":{"type":"text","font":"Open Sans","fontSize":16.5,"color":"#222"},"encoding":{"text":{"field":"t"}}}
]},
{"encoding":{"x":{"field":"x","type":"quantitative","scale":{"domain":[4.05,7.44],"range":[59.3,361]},"axis":{"orient":"top","offset":-280,"values":[4.5,5,5.5,6,6.5,7],"title":null,"labels":false,"tickSize":-3,"tickColor":"#555"}},
"y":{"field":"y","type":"quantitative","scale":{"domain":[0,1.4],"range":[517,280]},"axis":{"orient":"right","offset":-645,"values":[0,0.2,0.4,0.6,0.8,1,1.2,1.4],"title":null,"labels":false,"tickSize":-3,"tickColor":"#555"}}},
"data":{"values":[{"x":5,"y":0}]},"mark":{"type":"point","opacity":0}},
{"encoding":{"x":{"field":"x","type":"quantitative","scale":{"domain":[0.5,16.5],"range":[406,628.3]},"axis":{"orient":"bottom","offset":-41,"values":[2,4,6,8,10,12,14,16],"title":"X / mm","ticks":false,"labelPadding":6,"labelFontSize":8.5,"labelColor":"#666","titleFontSize":13,"titleColor":"#222","titlePadding":9}},
"y":{"field":"y","type":"quantitative","scale":{"domain":[0.5,17.5],"range":[515,279.3]},"axis":{"orient":"left","offset":-406,"values":[2,4,6,8,10,12,14,16],"title":"Y / mm","ticks":false,"labelPadding":4,"labelFontSize":8.5,"labelColor":"#666","titleFontSize":13,"titleColor":"#222","titlePadding":7}}},
"layer":[
{"data":{"values":[{"x":0.5,"x2":16.5,"y":0.5,"y2":17.5,"c":"Cluster 1"},
{"x":7,"x2":9,"y":13,"y2":13.5,"c":"Cluster 2"},{"x":5,"x2":10,"y":12.5,"y2":13,"c":"Cluster 2"},{"x":4.5,"x2":10.5,"y":12,"y2":12.5,"c":"Cluster 2"},{"x":4,"x2":11,"y":11.5,"y2":12,"c":"Cluster 2"},{"x":3.5,"x2":11.5,"y":11,"y2":11.5,"c":"Cluster 2"},{"x":3.5,"x2":11.5,"y":10.5,"y2":11,"c":"Cluster 2"},{"x":3.5,"x2":12,"y":7.5,"y2":10.5,"c":"Cluster 2"},{"x":4,"x2":11.5,"y":7,"y2":7.5,"c":"Cluster 2"},{"x":4,"x2":11.5,"y":6.5,"y2":7,"c":"Cluster 2"},{"x":4.5,"x2":11,"y":6,"y2":6.5,"c":"Cluster 2"},{"x":5,"x2":10.5,"y":5.5,"y2":6,"c":"Cluster 2"},{"x":5.5,"x2":9.5,"y":5,"y2":5.5,"c":"Cluster 2"},
{"x":6,"x2":8.5,"y":11.5,"y2":12,"c":"Cluster 3"},{"x":5,"x2":9.5,"y":11,"y2":11.5,"c":"Cluster 3"},{"x":4.5,"x2":10,"y":10,"y2":11,"c":"Cluster 3"},{"x":4.5,"x2":10.5,"y":8,"y2":10,"c":"Cluster 3"},{"x":4.5,"x2":10,"y":7.5,"y2":8,"c":"Cluster 3"},{"x":5,"x2":9.5,"y":7,"y2":7.5,"c":"Cluster 3"},{"x":5.5,"x2":9,"y":6.5,"y2":7,"c":"Cluster 3"},{"x":6.5,"x2":8,"y":6,"y2":6.5,"c":"Cluster 3"}]},"mark":{"type":"rect"},"encoding":{"x2":{"field":"x2"},"y2":{"field":"y2"},"color":{"field":"c","type":"nominal","sort":null,"scale":{"domain":["Cluster 1","Cluster 2","Cluster 3"],"range":["#0000ff","#00ff00","#ff0000"]},"legend":{"orient":"none","legendX":638,"legendY":358,"title":null,"symbolType":"square","symbolSize":169,"symbolStrokeWidth":0,"symbolOpacity":1,"labelFont":"Open Sans","labelFontSize":12.5,"labelColor":"#222","rowPadding":5,"labelOffset":7}}}},
{"data":{"values":[{"x":7.7,"y":13.85,"x2":7.7,"y2":9.4},{"x":11.26,"y":13.85,"x2":11.26,"y2":11.54},{"x":14.1,"y":13.85,"x2":14.1,"y2":9.4}]},"mark":{"type":"rule","color":"white","strokeWidth":2.5},"encoding":{"x2":{"field":"x2"},"y2":{"field":"y2"}}},
{"data":{"values":[{"x":11.26,"y":11.54,"x2":11.26,"y2":9.4}]},"mark":{"type":"rule","color":"black","strokeWidth":2.5},"encoding":{"x2":{"field":"x2"},"y2":{"field":"y2"}}},
{"data":{"values":[{"x":7.7,"y":9.3},{"x":14.1,"y":9.3}]},"mark":{"type":"point","shape":"M-1,-1.7L0,0L1,-1.7","filled":false,"fill":"transparent","stroke":"white","size":130,"strokeWidth":2.5,"opacity":1}},
{"data":{"values":[{"x":11.26,"y":9.3}]},"mark":{"type":"point","shape":"M-1,-1.7L0,0L1,-1.7","filled":false,"fill":"transparent","stroke":"black","size":130,"strokeWidth":2.5,"opacity":1}},
{"data":{"values":[{"x":7.56,"y":15.07,"t":"A"},{"x":11.08,"y":15.07,"t":"B"},{"x":14.1,"y":15.07,"t":"C"}]},"mark":{"type":"text","font":"Open Sans","fontSize":15,"color":"white"},"encoding":{"text":{"field":"t"}}},
{"data":{"values":[{"x":-1.44,"y":17.46,"t":"e)"}]},"mark":{"type":"text","font":"Open Sans","fontSize":16.5,"color":"#222"},"encoding":{"text":{"field":"t"}}}
]},
{"encoding":{"x":{"field":"x","type":"quantitative","scale":{"domain":[0,3],"range":[739.3,1000]},"axis":null},"y":{"field":"y","type":"quantitative","scale":{"domain":[0,4.8],"range":[304.3,489]},"axis":null}},
"layer":[
{"data":{"values":[{"x":0,"x2":0.99,"y":0,"y2":1.72,"r":"head"},{"x":1.005,"x2":1.995,"y":0,"y2":1.72,"r":"head"},{"x":2.01,"x2":3,"y":0,"y2":1.72,"r":"head"},{"x":0,"x2":0.99,"y":1.79,"y2":2.76,"r":"odd"},{"x":1.005,"x2":1.995,"y":1.79,"y2":2.76,"r":"odd"},{"x":2.01,"x2":3,"y":1.79,"y2":2.76,"r":"odd"},{"x":0,"x2":0.99,"y":2.79,"y2":3.79,"r":"even"},{"x":1.005,"x2":1.995,"y":2.79,"y2":3.79,"r":"even"},{"x":2.01,"x2":3,"y":2.79,"y2":3.79,"r":"even"},{"x":0,"x2":0.99,"y":3.81,"y2":4.8,"r":"odd"},{"x":1.005,"x2":1.995,"y":3.81,"y2":4.8,"r":"odd"},{"x":2.01,"x2":3,"y":3.81,"y2":4.8,"r":"odd"}]},"mark":{"type":"rect"},"encoding":{"x2":{"field":"x2"},"y2":{"field":"y2"},"color":{"field":"r","type":"nominal","scale":{"domain":["head","odd","even"],"range":["#000000","#c8c8c8","#e6e6e6"]},"legend":null}}},
{"data":{"values":[{"x":1.09,"y":0.34,"t":"Brillouin\nshift / GHz"},{"x":2.09,"y":0.34,"t":"Brillouin\nlinewidth /\nGHz"}]},"mark":{"type":"text","align":"left","baseline":"middle","lineBreak":"\n","lineHeight":18,"font":"Liberation Serif","fontWeight":"bold","fontSize":14.5,"color":"white"},"encoding":{"text":{"field":"t"}}},
{"data":{"values":[{"x":0.085,"y":2.1,"t":"Cluster 1"},{"x":1.09,"y":2.1,"t":"5.5110"},{"x":2.09,"y":2.1,"t":"0.6160"},{"x":0.085,"y":3.12,"t":"Cluster 2"},{"x":1.09,"y":3.12,"t":"5.6276"},{"x":2.09,"y":3.12,"t":"0.7459"},{"x":0.085,"y":4.15,"t":"Cluster 3"},{"x":1.09,"y":4.15,"t":"5.8025"},{"x":2.09,"y":4.15,"t":"0.9281"}]},"mark":{"type":"text","align":"left","baseline":"middle","font":"Liberation Serif","fontSize":14.5,"color":"#404040"},"encoding":{"text":{"field":"t"}}},
{"data":{"values":[{"x":-0.45,"y":-0.63,"t":"f)"}]},"mark":{"type":"text","font":"Open Sans","fontSize":16.5,"color":"#222"},"encoding":{"text":{"field":"t"}}}
]}
]}
